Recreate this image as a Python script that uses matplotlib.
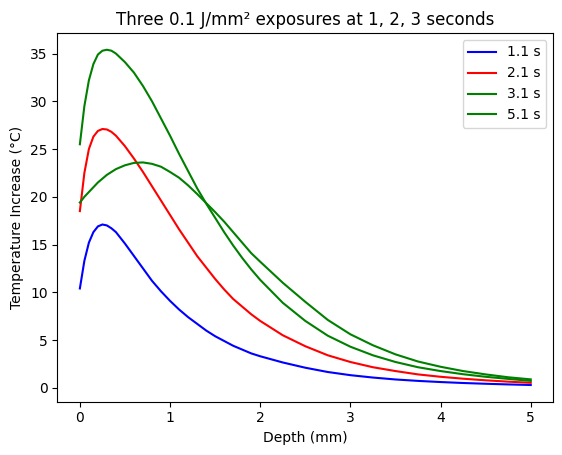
import matplotlib
matplotlib.use("Agg")
import matplotlib.pyplot as plt

depth = [0, 0.05, 0.1, 0.15, 0.2, 0.25, 0.3, 0.35, 0.4, 0.5, 0.6, 0.7, 0.8, 0.9, 1.0,
         1.1, 1.2, 1.3, 1.4, 1.5, 1.6, 1.7, 1.8, 1.9, 2.0,
         2.25, 2.5, 2.75, 3.0, 3.25, 3.5, 3.75, 4.0, 4.25, 4.5, 4.75, 5.0]

t_1_1 = [10.4, 13.3, 15.2, 16.3, 16.9, 17.1, 17.0, 16.7, 16.3, 15.1, 13.8, 12.5, 11.2, 10.1, 9.1,
         8.2, 7.4, 6.7, 6.0, 5.4, 4.9, 4.4, 4.0, 3.6, 3.3,
         2.65, 2.1, 1.65, 1.32, 1.07, 0.87, 0.72, 0.6, 0.5, 0.42, 0.35, 0.29]
t_2_1 = [18.5, 22.5, 25.0, 26.3, 26.9, 27.1, 27.05, 26.8, 26.4, 25.3, 24.0, 22.6, 21.1, 19.6, 18.1,
         16.6, 15.2, 13.8, 12.6, 11.4, 10.3, 9.3, 8.5, 7.7, 7.0,
         5.5, 4.35, 3.4, 2.7, 2.15, 1.75, 1.4, 1.15, 0.95, 0.78, 0.64, 0.52]
t_3_1 = [25.5, 29.5, 32.2, 33.9, 34.9, 35.3, 35.4, 35.3, 35.0, 34.1, 33.0, 31.6, 30.0, 28.2, 26.4,
         24.5, 22.7, 20.9, 19.3, 17.8, 16.3, 14.9, 13.6, 12.4, 11.3,
         8.9, 7.0, 5.45, 4.3, 3.4, 2.7, 2.15, 1.75, 1.42, 1.15, 0.93, 0.72]
t_5_1 = [19.4, 20.0, 20.5, 21.0, 21.5, 21.9, 22.3, 22.6, 22.9, 23.3, 23.55, 23.6, 23.45, 23.15, 22.6,
         22.0, 21.2, 20.3, 19.35, 18.4, 17.4, 16.3, 15.2, 14.1, 13.2,
         11.0, 9.0, 7.1, 5.6, 4.45, 3.5, 2.75, 2.2, 1.75, 1.4, 1.1, 0.88]

series = [("1.1 s", t_1_1, "blue"), ("2.1 s", t_2_1, "red"),
          ("3.1 s", t_3_1, "green"), ("5.1 s", t_5_1, "green")]

fig = plt.figure(figsize=(5.62, 4.55), dpi=100)
ax = fig.add_axes([0.102, 0.117, 0.8825, 0.8105])
for label, vals, color in series:
    ax.plot(depth, vals, color=color, label=label)

ax.set_title("Three 0.1 J/mm² exposures at 1, 2, 3 seconds")
ax.set_xlabel("Depth (mm)")
ax.set_ylabel("Temperature Increase (°C)")
ax.legend(loc="upper right")
fig.savefig("out.png", dpi=100)
